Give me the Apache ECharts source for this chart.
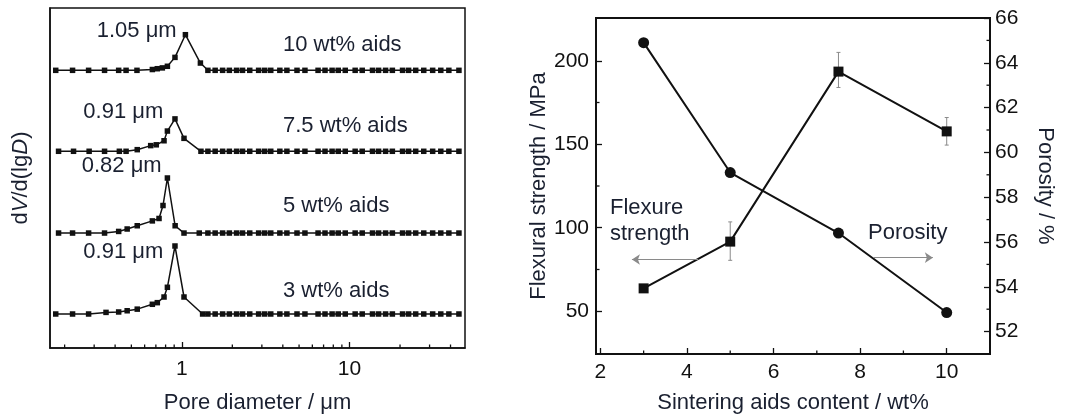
<!DOCTYPE html>
<html>
<head>
<meta charset="utf-8">
<script src="https://cdn.jsdelivr.net/npm/echarts@6/dist/echarts.min.js"></script>
<style>
  html, body { margin: 0; padding: 0; background: #fff; }
  #chart { width: 1079px; height: 419px; }
</style>
</head>
<body>
<div id="chart"></div>
<script>
// ---------- Pore size distribution (left panel) ----------
const sampleNames = ['3 wt% aids', '5 wt% aids', '7.5 wt% aids', '10 wt% aids'];
// vertical offset of each curve (stacked display, a.u.)
const curveOffsets = [0.42, 1.42, 2.43, 3.43];

// pore diameters (µm) and dV/d(lgD) (a.u.) around each peak
const head3D  = [0.177, 0.223, 0.278, 0.353, 0.42, 0.472, 0.542, 0.667, 0.714, 0.783, 0.82, 0.91, 1.03, 1.33];
const head3V  = [0, 0, 0, 0.02, 0.025, 0.04, 0.06, 0.12, 0.14, 0.21, 0.33, 0.84, 0.21, 0];
const head5D  = [0.184, 0.223, 0.278, 0.346, 0.42, 0.472, 0.542, 0.667, 0.731, 0.772, 0.82, 0.912, 1.03, 1.27];
const head5V  = [0, 0, 0, 0, 0.02, 0.05, 0.09, 0.15, 0.18, 0.34, 0.68, 0.09, 0, 0];
const head75D = [0.184, 0.226, 0.28, 0.346, 0.424, 0.465, 0.542, 0.652, 0.704, 0.783, 0.82, 0.91, 1.03, 1.3];
const head75V = [0, 0, 0, 0, 0, 0, 0.02, 0.07, 0.08, 0.13, 0.25, 0.40, 0.16, 0];
const head10D = [0.177, 0.223, 0.278, 0.346, 0.42, 0.465, 0.54, 0.667, 0.714, 0.765, 0.82, 0.91, 1.05, 1.29];
const head10V = [0, 0, 0, 0, 0, 0, 0, 0.01, 0.02, 0.03, 0.05, 0.16, 0.44, 0.09];
// peak diameters (µm) that are annotated
const peakDiameters = [0.91, 0.82, 0.91, 1.05];

// shared measurement points above the peaks (flat, dV/d(lgD) = 0)
const tailD = [1.43, 1.58, 1.75, 1.92, 2.12, 2.30, 2.54, 2.87, 3.12, 3.39, 3.84, 4.23, 4.86, 5.42,
               6.49, 7.14, 7.87, 8.56, 9.43, 10.8, 11.9, 13.7, 14.9, 16.4, 18.0, 20.7, 22.5, 24.8,
               27.7, 31.3, 35.0, 39.1, 44.9];
const poreMinorTicks = [0.2, 0.3, 0.4, 0.5, 0.6, 0.7, 0.8, 0.9, 2, 3, 4, 5, 6, 7, 8, 9, 20, 30, 40];

// ---------- Flexural strength & porosity (right panel) ----------
const aidContent     = [3, 5, 7.5, 10];               // wt%
const flexStrength   = [63.7, 91.7, 193.5, 157.7];    // MPa
const strengthLow    = [61.5, 80.5, 184, 149.5];
const strengthHigh   = [66, 103.5, 205, 166];
const porosity       = [64.9, 59.1, 56.4, 52.85];     // %
const contentLabels  = [2, 4, 6, 8, 10];
const contentMinor   = [3, 5, 7, 9];
const strengthLabels = [50, 100, 150, 200];
const strengthMinor  = [75, 125, 175];
const porosityLabels = [52, 54, 56, 58, 60, 62, 64, 66];
const porosityMinor  = [53, 55, 57, 59, 61, 63, 65];

const FONT = 'Liberation Sans, Arial, sans-serif';
const INK = '#111';
const TITLE = '#1a2030';
const TXT = 22;   // titles and annotations
const TICK = 21;  // tick labels

const heads = [[head3D, head3V], [head5D, head5V], [head75D, head75V], [head10D, head10V]];
const labelPos = [
  { distance: 9, offset: [0, 6] },
  { distance: 3, offset: [0, -12] },
  { distance: 9, offset: [0, -7] },
  { distance: 6, offset: [0, -4] }
];

const poreSeries = heads.map(([D, V], k) => {
  const off = curveOffsets[k];
  const pts = D.map((d, i) => {
    const item = { value: [d, off + V[i]] };
    if (d === peakDiameters[k]) {
      item.label = {
        show: true, position: 'left',
        distance: labelPos[k].distance, offset: labelPos[k].offset,
        formatter: p => p.value[0].toFixed(2) + ' μm',
        fontFamily: FONT, fontSize: TXT, color: TITLE
      };
    }
    return item;
  }).concat(tailD.map(d => ({ value: [d, off] })));
  return {
    name: sampleNames[k], type: 'line', xAxisIndex: 0, yAxisIndex: 0,
    data: pts, symbol: 'rect', symbolSize: 5.5, showSymbol: true,
    lineStyle: { color: '#111', width: 1.5 }, itemStyle: { color: '#111' },
    animation: false, z: 3
  };
});

function tickSeries(xi, yi, pts, dx, dy) {
  return {
    type: 'custom', xAxisIndex: xi, yAxisIndex: yi, silent: true, clip: false, z: 6,
    animation: false, data: pts,
    renderItem(params, api) {
      const p = api.coord([api.value(0), api.value(1)]);
      return { type: 'line', shape: { x1: p[0], y1: p[1], x2: p[0] + dx, y2: p[1] + dy },
               style: { stroke: '#111', lineWidth: 1.3 } };
    }
  };
}

const X2MIN = 1.9, X2MAX = 11, Y2MIN = 24.4, Y2MAX = 225.6, Y3MIN = 51, Y3MAX = 66;

const errorSeries = {
  type: 'custom', xAxisIndex: 1, yAxisIndex: 1, silent: true, z: 2, animation: false,
  data: aidContent.map((x, i) => [x, strengthLow[i], strengthHigh[i]]),
  encode: { x: 0, y: [1, 2] },
  renderItem(params, api) {
    const lo = api.coord([api.value(0), api.value(1)]);
    const hi = api.coord([api.value(0), api.value(2)]);
    const st = { stroke: '#8a8a8a', lineWidth: 1 };
    return { type: 'group', children: [
      { type: 'line', shape: { x1: lo[0], y1: lo[1], x2: hi[0], y2: hi[1] }, style: st },
      { type: 'line', shape: { x1: lo[0] - 2, y1: lo[1], x2: lo[0] + 2, y2: lo[1] }, style: st },
      { type: 'line', shape: { x1: hi[0] - 2, y1: hi[1], x2: hi[0] + 2, y2: hi[1] }, style: st }
    ] };
  }
};

const arrowMark = (from, to) => ({
  silent: true, symbol: ['none', 'arrow'], symbolSize: 8, label: { show: false },
  lineStyle: { color: '#8a8a8a', width: 1, type: 'solid' },
  itemStyle: { color: '#555' },
  emphasis: { disabled: true },
  data: [[{ coord: from }, { coord: to }]]
});

const option = {
  animation: false,
  textStyle: { fontFamily: FONT },
  grid: [
    { left: 50, top: 8, width: 415, height: 342, show: true, borderColor: '#111', borderWidth: 1.5, containLabel: false },
    { left: 596, top: 18, width: 394, height: 338, show: true, borderColor: '#111', borderWidth: 2, containLabel: false }
  ],
  xAxis: [
    {
      gridIndex: 0, type: 'log', logBase: 10, min: 0.1636, max: 48.8,
      axisLine: { lineStyle: { color: '#111', width: 1.5 } },
      axisTick: { inside: true, length: 6, lineStyle: { color: '#111', width: 1.3 } },
      splitLine: { show: false },
      axisLabel: { showMinLabel: false, showMaxLabel: false, fontSize: TICK, color: INK, margin: 11, fontFamily: FONT },
      name: 'Pore diameter / μm', nameLocation: 'middle', nameGap: 44,
      nameTextStyle: { fontSize: TXT, color: TITLE, fontFamily: FONT }
    },
    {
      gridIndex: 1, type: 'value', min: X2MIN, max: X2MAX,
      axisLine: { lineStyle: { color: '#111', width: 2 } },
      axisTick: { inside: true, length: 6, customValues: contentLabels, lineStyle: { color: '#111', width: 1.3 } },
      splitLine: { show: false },
      axisLabel: { customValues: contentLabels, fontSize: TICK, color: INK, margin: 8, fontFamily: FONT },
      name: 'Sintering aids content / wt%', nameLocation: 'middle', nameGap: 38,
      nameTextStyle: { fontSize: TXT, color: TITLE, fontFamily: FONT }
    }
  ],
  yAxis: [
    {
      gridIndex: 0, type: 'value', min: 0, max: 4.2,
      axisLine: { show: true, lineStyle: { color: '#111', width: 1.5 } },
      axisTick: { show: false }, axisLabel: { show: false }, splitLine: { show: false },
      name: 'd{i|V}/d(lg{i|D})', nameLocation: 'middle', nameGap: 18,
      nameTextStyle: { fontSize: TXT, color: TITLE, fontFamily: FONT,
        rich: { i: { fontStyle: 'italic', fontSize: TXT, color: TITLE, fontFamily: FONT } } }
    },
    {
      gridIndex: 1, type: 'value', min: Y2MIN, max: Y2MAX,
      axisLine: { show: true, lineStyle: { color: '#111', width: 2 } },
      axisTick: { inside: true, length: 6, customValues: strengthLabels, lineStyle: { color: '#111', width: 1.3 } },
      axisLabel: { customValues: strengthLabels, fontSize: TICK, color: INK, margin: 7, fontFamily: FONT },
      splitLine: { show: false },
      name: 'Flexural strength / MPa', nameLocation: 'middle', nameGap: 46,
      nameTextStyle: { fontSize: TXT, color: TITLE, fontFamily: FONT }
    },
    {
      gridIndex: 1, type: 'value', position: 'right', min: Y3MIN, max: Y3MAX,
      axisLine: { show: true, lineStyle: { color: '#111', width: 2 } },
      axisTick: { inside: true, length: 6, customValues: porosityLabels, lineStyle: { color: '#111', width: 1.3 } },
      axisLabel: { customValues: porosityLabels, fontSize: TICK, color: INK, margin: 5, fontFamily: FONT },
      splitLine: { show: false },
      name: 'Porosity / %', nameLocation: 'middle', nameGap: 44, nameRotate: -90,
      nameTextStyle: { fontSize: TXT, color: TITLE, fontFamily: FONT }
    }
  ],
  series: [
    ...poreSeries,
    tickSeries(0, 0, poreMinorTicks.map(d => [d, 0]), 0, -3.5),
    tickSeries(1, 1, contentMinor.map(x => [x, Y2MIN]), 0, -3.5),
    tickSeries(1, 1, strengthMinor.map(y => [X2MIN, y]), 3.5, 0),
    tickSeries(1, 2, porosityMinor.map(y => [X2MAX, y]), -3.5, 0),
    errorSeries,
    {
      name: 'Flexural strength', type: 'line', xAxisIndex: 1, yAxisIndex: 1,
      data: aidContent.map((x, i) => [x, flexStrength[i]]),
      symbol: 'rect', symbolSize: 10, showSymbol: true,
      lineStyle: { color: '#111', width: 2 }, itemStyle: { color: '#111' }, z: 4,
      markLine: arrowMark([4.26, 81], [2.73, 81])
    },
    {
      name: 'Porosity', type: 'line', xAxisIndex: 1, yAxisIndex: 2,
      data: aidContent.map((x, i) => [x, porosity[i]]),
      symbol: 'circle', symbolSize: 11, showSymbol: true,
      lineStyle: { color: '#111', width: 2 }, itemStyle: { color: '#111' }, z: 4,
      markLine: arrowMark([8.3, 55.3], [9.68, 55.3])
    }
  ],
  graphic: [
    { type: 'text', left: 283, top: 34, style: { text: sampleNames[3], font: TXT + 'px ' + FONT, fill: TITLE } },
    { type: 'text', left: 283, top: 115, style: { text: sampleNames[2], font: TXT + 'px ' + FONT, fill: TITLE } },
    { type: 'text', left: 283, top: 195, style: { text: sampleNames[1], font: TXT + 'px ' + FONT, fill: TITLE } },
    { type: 'text', left: 283, top: 280, style: { text: sampleNames[0], font: TXT + 'px ' + FONT, fill: TITLE } },
    { type: 'text', left: 610, top: 195, style: { text: 'Flexure\nstrength', font: TXT + 'px ' + FONT, fill: TITLE, lineHeight: 26 } },
    { type: 'text', left: 868, top: 222, style: { text: 'Porosity', font: TXT + 'px ' + FONT, fill: TITLE } }
  ]
};

const chart = echarts.init(document.getElementById('chart'), null, { renderer: 'canvas' });
chart.setOption(option);
</script>
</body>
</html>
